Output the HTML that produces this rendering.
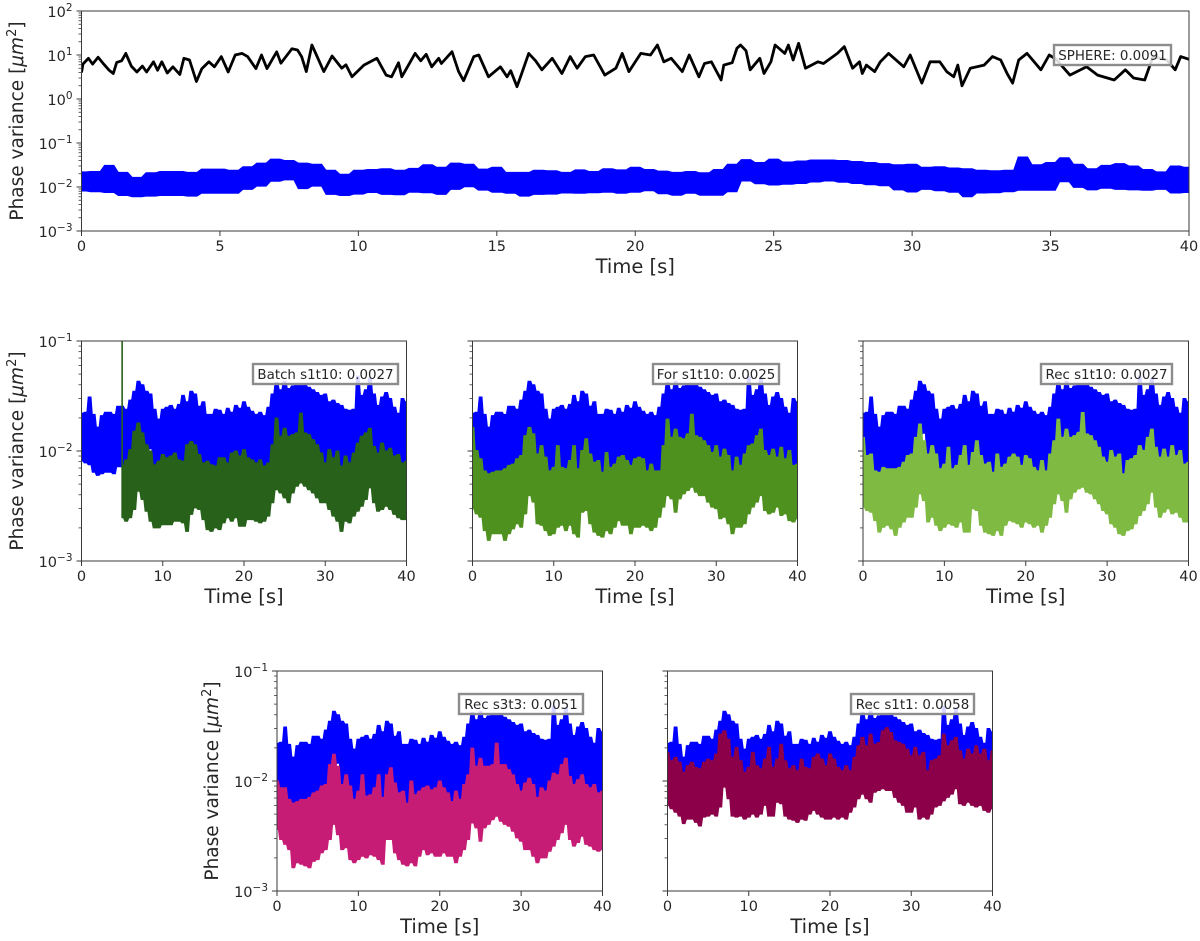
<!DOCTYPE html>
<html lang="en">
<head>
<meta charset="utf-8">
<title>Phase variance over time</title>
<style>
html,body{margin:0;padding:0;background:#fff;}
svg{display:block;font-family:"DejaVu Sans","Liberation Sans",sans-serif;filter:blur(0.35px);}
</style>
</head>
<body>
<svg id="figure" xmlns="http://www.w3.org/2000/svg" width="1200" height="941" viewBox="0 0 1200 941"></svg>
<script>
// Sampling of the envelopes: one reading every 0.5 s from 0 to 40 s.
const sampleStep = 0.5;
const xLabelsTop = ["0","5","10","15","20","25","30","35","40"];
const xTicksTop = [0,5,10,15,20,25,30,35,40];
const xLabelsSmall = ["0","10","20","30","40"];
const xTicksSmall = [0,10,20,30,40];
const yExponentsTop = [-3,-2,-1,0,1,2];
const yExponentsSmall = [-3,-2,-1];

const blueUpper = [.022,.0225,.031,.0215,.0165,.021,.0225,.0225,.0215,.0255,.0255,.024,.029,.035,.043,.040,.035,.033,.024,.0195,.024,.025,.026,.024,.0265,.032,.028,.035,.033,.0255,.028,.0215,.0215,.024,.0235,.0215,.0245,.0225,.026,.0245,.028,.025,.023,.0215,.0225,.021,.025,.033,.042,.036,.043,.037,.039,.041,.041,.040,.038,.036,.034,.032,.033,.028,.029,.027,.026,.024,.0235,.024,.048,.032,.036,.046,.033,.026,.031,.034,.030,.025,.022,.030,.028];
const blueLower = [.0081,.0078,.0075,.0064,.006,.0062,.0064,.0064,.0062,.0072,.0072,.0072,.0088,.0105,.0135,.0145,.0092,.0105,.0068,.0064,.0069,.0075,.0068,.0067,.0076,.0074,.0068,.0088,.0101,.0085,.0076,.0072,.0062,.0068,.0069,.0073,.0072,.0074,.0076,.0072,.0076,.0082,.007,.0065,.0072,.0065,.0065,.0078,.0137,.0118,.0111,.0115,.012,.013,.0137,.0128,.012,.0112,.0107,.0086,.0077,.0088,.0082,.0076,.006,.0073,.0074,.0078,.0084,.0084,.0084,.0132,.0098,.0086,.0094,.0088,.0086,.0084,.0088,.0073,.0075];

const sphereTimes = [0,.05,.25,.4,.6,.8,1,1.15,1.27,1.45,1.6,1.8,2,2.2,2.35,2.6,2.75,2.9,3.1,3.3,3.55,3.7,3.9,4.15,4.35,4.6,4.8,5.05,5.3,5.55,5.8,6,6.3,6.5,6.7,7.05,7.2,7.6,7.8,7.95,8.12,8.32,8.5,8.75,9.05,9.4,9.55,9.77,10.2,10.67,11,11.2,11.45,11.57,12.05,12.25,12.45,12.65,12.9,13,13.38,13.62,13.8,14.17,14.35,14.7,15.13,15.37,15.5,15.73,15.9,16.15,16.4,16.63,17,17.35,17.65,17.9,18.2,18.5,18.9,19.3,19.53,19.77,20.2,20.55,20.8,21.03,21.3,21.7,21.95,22.3,22.5,22.75,23.1,23.2,23.5,23.67,23.8,24,24.15,24.5,24.65,24.9,25.05,25.4,25.53,25.7,25.9,26.15,26.6,26.8,27.3,27.55,27.85,28.1,28.2,28.35,28.65,28.85,29.15,29.7,29.93,30.35,30.65,31,31.25,31.5,31.65,31.8,32.1,32.6,32.9,33.2,33.43,33.63,33.85,34.15,34.65,34.95,35.2,35.7,36.3,36.7,37.3,37.7,38,38.4,38.7,39.2,39.5,39.7,40];
const sphereValues = [4,6.2,8.4,6.2,8.9,6.2,4.5,3.8,6.8,7.4,10.9,5.6,4.1,5.6,4.1,7,4.5,7,3.9,5.4,3.6,8.4,7.7,2.5,4.9,7,5.4,9.2,4.1,10,10.9,9.2,4.9,10,4.9,11.8,6.5,13.8,13,9.2,4.2,16.9,9.6,4.2,9.5,5,6,3.2,5.9,8.4,3.5,3.2,6.7,3.2,10.9,7.4,10.4,5.4,8.4,6.4,11.9,4.2,2.6,9.2,10,3.2,5.4,3.2,4.4,1.9,3.8,10.9,7.4,4.6,8.4,3.8,9.2,5,9.2,10,3.5,5,10.9,4.2,10.9,10,16.9,7,8.4,4.2,10,3.2,6.4,7,2.7,5.9,6.7,14.2,16.9,12.5,4.6,8.4,3.8,7,16.9,10.9,16.9,7.7,18.4,5,7,6.4,10.9,15.5,5,7,3.8,5.9,4.2,7,10.9,5.4,10,2.3,7,7,4.2,3.2,5.9,2,5,5.9,9.2,7.7,3.8,2.3,7.7,10.9,4.6,10,8,3.5,5.4,3.5,2.7,4.6,3,2.7,9.2,7.7,4.6,9.2,8];

const batchStart = 5;
const batchSpikeTop = 0.1;
const batchUpper = [.0073,.0083,.0103,.0151,.018,.0146,.0114,.01,.0075,.0081,.0093,.0087,.009,.0096,.0083,.0081,.0114,.0122,.0114,.0093,.0078,.0081,.0075,.0073,.0087,.0087,.0078,.0096,.01,.009,.0103,.0087,.0083,.0078,.0083,.0073,.0078,.0114,.0199,.0136,.0161,.0136,.0141,.0146,.0221,.0146,.0141,.0127,.0114,.0096,.0078,.0103,.0087,.01,.0073,.009,.0078,.0096,.0118,.0136,.0146,.0161,.011,.0096,.0118,.01,.0106,.009,.0093,.0078,.0081];
const batchLower = [.00247,.0023,.00247,.00294,.0043,.00362,.00283,.0023,.002,.002,.00214,.00214,.00214,.0023,.0023,.00222,.00186,.00265,.00304,.00294,.00238,.00193,.00186,.002,.00193,.00222,.00247,.0023,.00247,.00207,.00207,.00238,.00238,.0023,.00222,.0023,.00256,.00338,.00445,.00415,.00375,.00338,.00415,.00478,.00512,.00478,.00445,.00415,.00375,.00338,.00338,.00294,.00256,.0023,.00186,.0023,.00222,.00256,.00283,.00315,.00362,.00462,.00338,.00283,.00294,.00315,.00294,.00265,.00247,.00238,.00238];

const forUpper = [.0164,.0101,.0085,.0066,.0062,.0064,.0066,.0066,.0069,.0074,.0076,.0085,.0091,.0138,.0164,.0143,.0094,.0112,.0088,.0066,.0071,.0112,.0071,.0069,.0082,.0112,.0069,.0101,.0129,.0094,.0079,.0082,.0064,.0097,.0071,.0076,.0088,.0091,.0082,.0074,.0085,.0088,.0085,.0066,.0076,.0066,.0066,.0112,.0195,.0133,.0158,.0133,.0129,.0143,.0216,.0138,.0133,.0124,.0112,.0097,.0112,.0088,.0104,.0091,.0066,.0088,.0074,.0094,.0112,.0116,.0138,.0158,.0101,.0091,.0104,.0088,.0108,.0085,.0101,.0074,.0076];
const forLower = [.00298,.00268,.0025,.00189,.00154,.00177,.00177,.00177,.00154,.00177,.00196,.00218,.00203,.00268,.00393,.00343,.00218,.00211,.00189,.00171,.00177,.00203,.00211,.00189,.00211,.00177,.00165,.00278,.00288,.00218,.00183,.00171,.00165,.00189,.00177,.00203,.00233,.00211,.00211,.00177,.00203,.00203,.00211,.00203,.00189,.00203,.0025,.00309,.00393,.00367,.00278,.00367,.00407,.00437,.00469,.00422,.00393,.00393,.00343,.00309,.00298,.00242,.0025,.00218,.00177,.00203,.00203,.00218,.00268,.00309,.00343,.00393,.00288,.00268,.00278,.00309,.00259,.00268,.00233,.00226,.00242];

const recUpper = [.0133,.0091,.0094,.0066,.0064,.0071,.0069,.0069,.0069,.0071,.0079,.0091,.0094,.0133,.0176,.0124,.0094,.0112,.0094,.0069,.0076,.0108,.0069,.0074,.0091,.0112,.0074,.0097,.0124,.0091,.0076,.0079,.0064,.0094,.0071,.0076,.0088,.0094,.0088,.0074,.0091,.0085,.0071,.0066,.0082,.0066,.0094,.0124,.0195,.0133,.0158,.0133,.0138,.0148,.0224,.0143,.0138,.0124,.0108,.0088,.0079,.0101,.0088,.0094,.0062,.0082,.0085,.0091,.0112,.0101,.0133,.0158,.0108,.0088,.0104,.0088,.0112,.0091,.0101,.0076,.0079];
const recLower = [.00309,.00288,.00278,.00233,.00183,.00203,.00211,.00196,.00171,.00203,.00226,.0025,.0025,.00309,.00407,.00354,.00226,.0025,.00211,.00189,.00203,.00218,.00211,.00203,.00226,.00183,.00183,.00298,.00288,.00211,.00183,.00177,.00171,.00189,.00171,.00211,.00233,.00226,.00218,.00203,.00226,.00218,.00203,.00211,.00183,.00211,.0025,.00331,.00407,.00354,.00278,.00367,.00422,.00452,.00469,.00422,.00407,.00367,.00331,.00288,.00268,.00218,.00203,.00177,.00171,.00189,.00196,.00218,.00259,.00288,.00331,.00422,.00309,.0025,.00278,.00298,.00268,.00278,.0025,.00226,.00226];

const s3t3Upper = [.01,.0087,.0087,.0068,.0063,.0065,.0068,.0068,.0071,.0078,.0081,.009,.0093,.0141,.0175,.0136,.0093,.0114,.009,.0068,.0081,.0114,.0073,.0075,.0087,.0114,.0071,.0114,.0132,.0096,.0078,.0081,.0063,.01,.0075,.0081,.0087,.009,.0083,.0087,.01,.0087,.0078,.0065,.0081,.0068,.0093,.0114,.0199,.0136,.0161,.0136,.0136,.0141,.0221,.0141,.0141,.0127,.0114,.0093,.0081,.0096,.0106,.0093,.0071,.0087,.0081,.01,.0118,.0114,.0141,.0161,.011,.0093,.0103,.0114,.0093,.0087,.0093,.0078,.0081];
const s3t3Lower = [.00362,.00294,.00265,.00238,.00163,.00181,.00175,.00169,.00163,.00186,.00193,.00222,.00238,.00294,.00403,.00325,.00238,.00247,.00193,.00181,.00193,.00207,.002,.00214,.00207,.00193,.00175,.00294,.00294,.00222,.00193,.00175,.00169,.00181,.00169,.00207,.00238,.00214,.00222,.00207,.00207,.00222,.00207,.00207,.00181,.00207,.00238,.00294,.00415,.00375,.00283,.00375,.00403,.00445,.00478,.0043,.00403,.00388,.00349,.00304,.00283,.00238,.00238,.00207,.00181,.002,.002,.0023,.00256,.00294,.00338,.00403,.00294,.00256,.00276,.00315,.00265,.00256,.00238,.0023,.00238];

const s1t1Upper = [.0182,.0153,.0164,.0148,.012,.0138,.0148,.0133,.0129,.0148,.0158,.0153,.0176,.0267,.0286,.024,.0164,.0202,.0153,.012,.0133,.0182,.0138,.0129,.0158,.0202,.0133,.0158,.0216,.0153,.0129,.0138,.0124,.0158,.0133,.0129,.0164,.0176,.0158,.0138,.0176,.0158,.0133,.0124,.0138,.0124,.0164,.0209,.0249,.0209,.0267,.0216,.0224,.0286,.0306,.0276,.0232,.0224,.0216,.0195,.017,.0202,.017,.0182,.0124,.0153,.0158,.017,.0267,.0209,.0232,.0249,.0188,.0158,.0195,.0176,.0209,.0176,.0195,.0153,.0188];
const s1t1Lower = [.006,.0056,.0052,.0048,.0041,.0045,.0045,.0042,.0039,.0047,.0048,.005,.0048,.0058,.0088,.0069,.0048,.0047,.0048,.0045,.0047,.005,.0047,.005,.006,.0048,.0048,.0064,.0062,.0048,.0045,.0044,.0042,.0045,.0044,.005,.0054,.005,.0047,.0045,.0045,.0047,.0045,.0047,.0045,.0052,.0058,.0069,.0076,.0069,.0064,.0079,.0082,.0085,.0082,.0082,.0071,.0064,.006,.0052,.0052,.0058,.0045,.0047,.0045,.005,.0058,.006,.0066,.0071,.0076,.0085,.0062,.006,.0064,.006,.0058,.006,.0054,.0052,.0056];

const svg = document.getElementById('figure');
const NS = 'http://www.w3.org/2000/svg';
const TEXT = '#262626';
const SPINE = '#3a3a3a';
// Half-width (seconds) of the plateau each envelope reading occupies.
const PLATEAU = 0.17;

function svgEl(tag, attrs, parent) {
  const el = document.createElementNS(NS, tag);
  for (const k in attrs) el.setAttribute(k, attrs[k]);
  parent.appendChild(el);
  return el;
}
function makeX(box, xMax) { return t => box.x0 + (t / xMax) * (box.x1 - box.x0); }
function makeY(box, minExp, maxExp) {
  return v => box.y1 - ((Math.log10(v) - minExp) / (maxExp - minExp)) * (box.y1 - box.y0);
}
function bandPoints(upper, lower, tStart, X, Y) {
  const pts = [];
  const push = (t, v) => pts.push(X(t).toFixed(1) + ',' + Y(v).toFixed(1));
  upper.forEach((v, i) => {
    const t = tStart + i * sampleStep;
    push(Math.max(tStart, t - PLATEAU), v);
    push(t + PLATEAU, v);
  });
  for (let i = lower.length - 1; i >= 0; i--) {
    const t = tStart + i * sampleStep;
    push(t + PLATEAU, lower[i]);
    push(Math.max(tStart, t - PLATEAU), lower[i]);
  }
  return pts.join(' ');
}
let clipCounter = 0;

function drawPanel(p) {
  const box = p.box;
  const X = makeX(box, p.xMax);
  const exps = p.yExponents;
  const minE = exps[0];
  const maxE = exps[exps.length - 1];
  const Y = makeY(box, minE, maxE);

  const g = svgEl('g', {}, svg);
  
  

  clipCounter += 1;
  const clipId = 'clip-' + clipCounter;
  const clip = svgEl('clipPath', { id: clipId }, g);
  svgEl('rect', { x: box.x0, y: box.y0, width: box.x1 - box.x0, height: box.y1 - box.y0 }, clip);

  const plot = svgEl('g', { 'clip-path': 'url(#' + clipId + ')' }, g);
  
  

  const blue = svgEl('polygon', {
    points: bandPoints(blueUpper, blueLower, 0, X, Y),
    fill: '#0000ff', stroke: '#0000ff', 'stroke-width': 1, 'stroke-linejoin': 'miter'
  }, plot);
  
  

  if (p.lineTimes) {
    const pts = p.lineTimes.map((t, i) => X(t).toFixed(1) + ',' + Y(p.lineValues[i]).toFixed(1)).join(' ');
    const line = svgEl('polyline', {
      points: pts, fill: 'none', stroke: '#000', 'stroke-width': 2.8, 'stroke-linejoin': 'round'
    }, plot);
    
    
  }
  if (p.upper) {
    const start = p.start || 0;
    const band = svgEl('polygon', {
      points: bandPoints(p.upper, p.lower, start, X, Y),
      fill: p.color, stroke: p.color, 'stroke-width': 1, 'stroke-linejoin': 'miter'
    }, plot);
    
    
    if (p.spikeTop) {
      const spike = svgEl('line', {
        x1: X(start), x2: X(start), y1: Y(p.lower[0]), y2: Y(p.spikeTop),
        stroke: p.color, 'stroke-width': 1.6
      }, plot);
      
      
    }
  }

  // y ticks
  for (let e = minE; e <= maxE; e++) {
    const yMajor = Y(Math.pow(10, e));
    const tick = svgEl('line', { x1: box.x0 - 5, x2: box.x0, y1: yMajor, y2: yMajor, stroke: SPINE, 'stroke-width': 1 }, g);
    
    
    if (p.showYLabels) {
      const lab = svgEl('text', { x: box.x0 - 9, y: yMajor + 6, 'text-anchor': 'end', 'font-size': 14.5, fill: TEXT }, g);
      
      
      const base = svgEl('tspan', {}, lab);
      base.textContent = '10';
      const sup = svgEl('tspan', { dy: -6, 'font-size': 10.5 }, lab);
      sup.textContent = String(e).replace('-', '\u2212');
    }
    if (e < maxE) {
      for (let m = 2; m <= 9; m++) {
        const yMinor = Y(m * Math.pow(10, e));
        const mt = svgEl('line', { x1: box.x0 - 3, x2: box.x0, y1: yMinor, y2: yMinor, stroke: SPINE, 'stroke-width': 0.8 }, g);
        
        
      }
    }
  }
  // x ticks
  p.xTicks.forEach((t, i) => {
    const tick = svgEl('line', { x1: X(t), x2: X(t), y1: box.y1, y2: box.y1 + 5, stroke: SPINE, 'stroke-width': 1 }, g);
    
    
    const lab = svgEl('text', { x: X(t), y: box.y1 + 20, 'text-anchor': 'middle', 'font-size': 14.5, fill: TEXT }, g);
    
    
    lab.textContent = p.xLabels[i];
  });
  // frame
  const frame = svgEl('rect', {
    x: box.x0, y: box.y0, width: box.x1 - box.x0, height: box.y1 - box.y0,
    fill: 'none', stroke: SPINE, 'stroke-width': 1
  }, g);
  
  

  // x title
  const xt = svgEl('text', {
    x: (box.x0 + box.x1) / 2, y: box.y1 + 42, 'text-anchor': 'middle', 'font-size': 19.5, fill: TEXT
  }, g);
  
  
  xt.textContent = 'Time [s]';

  // y title
  if (p.showYLabels) {
    const cx = p.yTitleX;
    const cy = (box.y0 + box.y1) / 2;
    const yt = svgEl('text', {
      x: 0, y: 0, 'text-anchor': 'middle', 'font-size': 18.5, fill: TEXT,
      transform: 'translate(' + cx + ',' + cy + ') rotate(-90)'
    }, g);
    
    
    const a = svgEl('tspan', {}, yt);
    a.textContent = 'Phase variance [';
    const b = svgEl('tspan', { 'font-style': 'italic' }, yt);
    b.textContent = '\u03bcm';
    const c = svgEl('tspan', { dy: -7, 'font-size': 13 }, yt);
    c.textContent = '2';
    const d = svgEl('tspan', { dy: 7 }, yt);
    d.textContent = ']';
  }

  // annotation
  const a = p.note;
  const noteG = svgEl('g', {}, g);
  
  
  svgEl('rect', {
    x: a.x0, y: a.y0, width: a.x1 - a.x0, height: a.y1 - a.y0,
    fill: '#fff', 'fill-opacity': 0.85, stroke: '#8c8c8c', 'stroke-width': 2.4
  }, noteG);
  const nt = svgEl('text', {
    x: (a.x0 + a.x1) / 2, y: (a.y0 + a.y1) / 2 + 5, 'text-anchor': 'middle', 'font-size': 13.4, fill: TEXT
  }, noteG);
  nt.textContent = a.text;
}

drawPanel({
  name: 'panel-sphere', box: { x0: 81.5, x1: 1189, y0: 11, y1: 231 }, xMax: 40,
  xTicks: xTicksTop, xLabels: xLabelsTop, yExponents: yExponentsTop, showYLabels: true, yTitleX: 23,
  lineTimes: sphereTimes, lineValues: sphereValues,
  note: { x0: 1054, x1: 1171, y0: 45, y1: 65, text: 'SPHERE: 0.0091' }
});
drawPanel({
  name: 'panel-batch-s1t10', box: { x0: 81.5, x1: 406.5, y0: 341, y1: 561 }, xMax: 40,
  xTicks: xTicksSmall, xLabels: xLabelsSmall, yExponents: yExponentsSmall, showYLabels: true, yTitleX: 23,
  upper: batchUpper, lower: batchLower, start: batchStart, spikeTop: batchSpikeTop,
  color: '#27611a', seriesName: 'batch-s1t10-series',
  note: { x0: 253, x1: 398, y0: 364, y1: 384, text: 'Batch s1t10: 0.0027' }
});
drawPanel({
  name: 'panel-for-s1t10', box: { x0: 472.5, x1: 797.5, y0: 341, y1: 561 }, xMax: 40,
  xTicks: xTicksSmall, xLabels: xLabelsSmall, yExponents: yExponentsSmall, showYLabels: false,
  upper: forUpper, lower: forLower,
  color: '#4f911f', seriesName: 'for-s1t10-series',
  note: { x0: 653, x1: 779, y0: 364, y1: 384, text: 'For s1t10: 0.0025' }
});
drawPanel({
  name: 'panel-rec-s1t10', box: { x0: 863, x1: 1188.5, y0: 341, y1: 561 }, xMax: 40,
  xTicks: xTicksSmall, xLabels: xLabelsSmall, yExponents: yExponentsSmall, showYLabels: false,
  upper: recUpper, lower: recLower,
  color: '#7fba42', seriesName: 'rec-s1t10-series',
  note: { x0: 1041, x1: 1172, y0: 364, y1: 384, text: 'Rec s1t10: 0.0027' }
});
drawPanel({
  name: 'panel-rec-s3t3', box: { x0: 277, x1: 602.5, y0: 671, y1: 891 }, xMax: 40,
  xTicks: xTicksSmall, xLabels: xLabelsSmall, yExponents: yExponentsSmall, showYLabels: true, yTitleX: 218,
  upper: s3t3Upper, lower: s3t3Lower,
  color: '#c71c75', seriesName: 'rec-s3t3-series',
  note: { x0: 459, x1: 583, y0: 694, y1: 714, text: 'Rec s3t3: 0.0051' }
});
drawPanel({
  name: 'panel-rec-s1t1', box: { x0: 667.5, x1: 992.5, y0: 671, y1: 891 }, xMax: 40,
  xTicks: xTicksSmall, xLabels: xLabelsSmall, yExponents: yExponentsSmall, showYLabels: false,
  upper: s1t1Upper, lower: s1t1Lower,
  color: '#8b0048', seriesName: 'rec-s1t1-series',
  note: { x0: 851, x1: 974, y0: 694, y1: 714, text: 'Rec s1t1: 0.0058' }
});
</script>
</body>
</html>
